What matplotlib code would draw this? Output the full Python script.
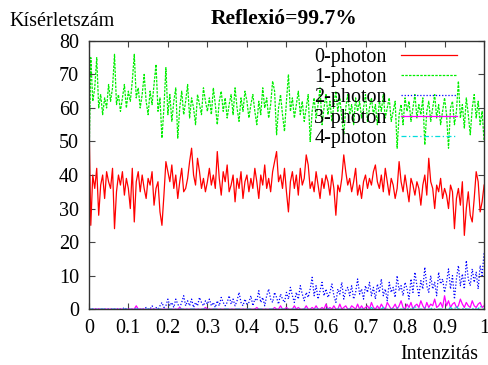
import numpy as np
import matplotlib
matplotlib.use('Agg')
import matplotlib.pyplot as plt
from matplotlib.ticker import FormatStrFormatter, MultipleLocator

title = 'Reflexió=99.7%'
ylabel = 'Kísérletszám'
xlabel = 'Intenzitás'
labels = ['0-photon', '1-photon', '2-photon', '3-photon', '4-photon']

intensity = np.linspace(0, 1, 201)

photon0 = [60,
    25, 40, 36, 42, 28, 37, 40, 33, 41, 38, 36, 42, 24, 35, 40, 37, 41, 34, 39, 36,
    30, 42, 26, 38, 41, 35, 40, 36, 33, 39, 37, 41, 31, 36, 38, 29, 25, 34, 44, 41,
    38, 43, 36, 40, 33, 38, 42, 35, 36, 39, 44, 48, 40, 37, 45, 41, 36, 39, 35, 38,
    42, 37, 40, 36, 47, 39, 34, 41, 38, 43, 35, 37, 40, 32, 39, 36, 41, 33, 38, 40,
    35, 39, 36, 42, 38, 33, 40, 37, 43, 36, 39, 35, 41, 44, 47, 38, 40, 36, 42, 35,
    29, 38, 41, 36, 40, 34, 42, 37, 39, 46, 43, 36, 38, 35, 41, 37, 33, 39, 36, 40,
    38, 34, 40, 36, 28, 37, 35, 39, 46, 41, 37, 39, 35, 38, 42, 34, 37, 33, 38, 40,
    36, 39, 37, 41, 43, 38, 36, 40, 35, 42, 38, 34, 39, 37, 33, 36, 44, 38, 35, 40,
    36, 32, 39, 37, 34, 38, 36, 31, 37, 40, 34, 45, 38, 36, 30, 37, 35, 39, 33, 36,
    34, 30, 37, 35, 24, 33, 36, 31, 38, 22, 30, 35, 28, 26, 33, 41, 38, 29, 32, 37]

photon1 = [40,
    75, 62, 66, 75, 60, 64, 58, 63, 60, 67, 62, 66, 76, 61, 64, 59, 63, 67, 60, 65,
    62, 68, 76, 63, 66, 60, 64, 70, 62, 58, 65, 61, 67, 73, 59, 63, 51, 60, 72, 58,
    64, 56, 62, 66, 51, 60, 65, 58, 62, 67, 57, 63, 60, 55, 64, 61, 58, 66, 62, 59,
    63, 58, 66, 61, 55, 62, 65, 59, 63, 57, 61, 64, 58, 66, 60, 56, 63, 59, 65, 62,
    57, 61, 64, 59, 55, 62, 58, 66, 60, 63, 57, 61, 68, 65, 52, 60, 64, 58, 53, 62,
    70, 59, 63, 57, 61, 65, 58, 62, 56, 60, 64, 50, 59, 63, 57, 61, 66, 55, 60, 64,
    58, 62, 56, 61, 65, 59, 63, 57, 52, 60, 64, 58, 61, 55, 63, 59, 62, 57, 60, 64,
    56, 60, 63, 58, 61, 55, 62, 59, 64, 57, 60, 63, 56, 59, 62, 48, 58, 61, 55, 63,
    59, 62, 56, 60, 64, 57, 61, 58, 63, 49, 59, 62, 56, 60, 64, 57, 61, 55, 59, 63,
    58, 48, 60, 62, 55, 59, 68, 57, 61, 54, 63, 58, 52, 60, 64, 57, 62, 55, 59, 50]

photon2 = [0,
    0, 0, 0, 0, 0, 0, 0, 0, 0, 0, 0, 0, 0, 0, 0, 0, 0, 0.5, 0, 0,
    0, 0, 0, 0.5, 0, 0, 0, 0, 0.5, 0, 0, 1, 0, 0.5, 0, 1, 2, 0.5, 1, 3,
    1, 2, 0.5, 3, 1.5, 0.5, 2, 4, 1, 2.5, 1, 3, 0.5, 2, 1, 3.5, 2, 1, 2.5, 1.5,
    3, 1, 2, 0.5, 2.5, 1, 3.5, 2, 1, 2, 4, 1.5, 3, 1, 2.5, 5, 2, 1, 3, 1.5,
    2, 4, 1, 3, 2.5, 5.5, 2, 3.5, 1, 4, 6, 3, 2, 5, 3.5, 1.5, 4.5, 3, 2, 5,
    3, 6.5, 4, 2, 5, 3, 7, 4.5, 2.5, 5, 3.5, 6, 9.5, 4, 7, 3, 5.5, 8, 4, 6,
    3.5, 5, 7.5, 4, 2, 6, 4.5, 8, 3, 5.5, 6.5, 4, 7, 3, 5, 9, 4.5, 6, 3, 7,
    5, 8, 4, 6.5, 3, 7.5, 5, 9, 4, 6, 2.5, 8, 5, 6.5, 3.5, 10, 5.5, 7, 4, 8,
    6, 3, 9, 5, 11, 7, 4, 8.5, 6, 12.5, 7, 5, 10, 6, 8, 4, 11, 7.5, 9, 5,
    8, 12, 6, 10, 3, 9, 13, 7, 10.5, 6, 14.5, 9, 7, 12, 8, 11, 6, 13, 10, 17]

photon3 = [0,
    0, 0, 0, 0, 0, 0, 0, 0, 0, 0, 0, 0, 0, 0, 0, 0, 0, 0, 0, 0,
    0, 0, 0, 1, 0, 0, 0, 0, 0, 0, 0, 0, 0, 0, 0, 0, 0, 0, 0, 0,
    0, 0, 0, 0, 0, 0.5, 0, 0, 0, 0, 0, 0, 0, 0, 0, 0, 0, 0, 0.5, 0,
    0, 0, 0, 0, 0, 0, 0, 0, 0, 0, 0, 0, 0, 0, 0, 0, 0, 0, 0, 0,
    0, 0, 0, 0, 0.5, 0, 0, 0, 0, 0, 0, 0, 0, 0.5, 0, 0, 1, 0, 0, 0.5,
    0, 0, 0, 1, 0, 0.5, 0, 0, 0, 1, 0, 0, 0.5, 0, 1, 0, 0, 0.5, 0, 1.5,
    0, 0.5, 0, 1, 0, 0, 1.5, 0, 0.5, 1, 0, 0, 1, 0.5, 0, 1.5, 0, 1, 0, 0.5,
    1, 0, 2, 0.5, 0, 1, 0, 1.5, 0.5, 0, 2, 1, 0, 0.5, 1.5, 0, 1, 2.5, 0.5, 0,
    1.5, 0.5, 2, 0, 1, 1.5, 0.5, 2.5, 1, 0, 2, 0.5, 1.5, 1, 3, 0.5, 1, 2, 0.5, 4,
    1, 2.5, 0.5, 1.5, 2, 0.5, 1, 3, 1.5, 0.5, 2, 1, 0.5, 2.5, 1, 0.5, 1.5, 2, 0.5, 1]

photon4 = [0] * 141 + [
    0, 0, 0.5, 0, 0, 0, 0, 0, 0.5, 0, 0, 0, 0, 0, 0, 0.5, 0, 0, 0, 0,
    0, 0.5, 0, 0, 1, 0, 0, 0, 0, 0.5, 0, 0, 0, 0.5, 0, 0, 0, 0, 0, 0,
    0, 0, 0.5, 0, 0, 1, 0, 0, 0, 0.5, 0, 0, 0, 0, 0.5, 0, 0, 1, 0, 0]

series = [photon0, photon1, photon2, photon3, photon4]
colors = ['#ff0000', '#00ee00', '#0000ff', '#ff00ff', '#00dddd']
styles = ['-', (0, (2, 1)), (0, (1, 1.5)), '-', (0, (4, 2, 1, 2))]

plt.rcParams['font.family'] = ['Liberation Serif', 'DejaVu Serif']

fig = plt.figure(figsize=(4.88, 3.65), dpi=100)
ax = fig.add_axes([0.182, 0.153, 0.810, 0.735])

for y, c, ls, lab in zip(series, colors, styles, labels):
    ax.plot(intensity, y, color=c, linestyle=ls, linewidth=0.9, label=lab)

ax.set_xlim(0, 1)
ax.set_ylim(0, 80)
ax.xaxis.set_major_locator(MultipleLocator(0.1))
ax.yaxis.set_major_locator(MultipleLocator(10))
ax.xaxis.set_major_formatter(FormatStrFormatter('%g'))
ax.tick_params(direction='in', top=True, right=True, length=4, labelsize=14.5,
               width=0.8, color='#444444', pad=7)
for s in ax.spines.values():
    s.set_color('#333333')
    s.set_linewidth(1.0)

ax.legend(loc='upper right', bbox_to_anchor=(0.937, 0.868),
          bbox_transform=fig.transFigure, frameon=False, markerfirst=False,
          fontsize=14.5, handlelength=2.8, labelspacing=0.05, borderaxespad=0,
          borderpad=0, handletextpad=0.7)

fig.text(0.02, 0.94, ylabel, fontsize=14.5, ha='left', va='center')
fig.text(0.582, 0.948, title, fontsize=15.5, fontweight='bold', ha='center', va='center')
fig.text(0.98, 0.03, xlabel, fontsize=14.5, ha='right', va='center')

fig.savefig('out.png', dpi=100)
